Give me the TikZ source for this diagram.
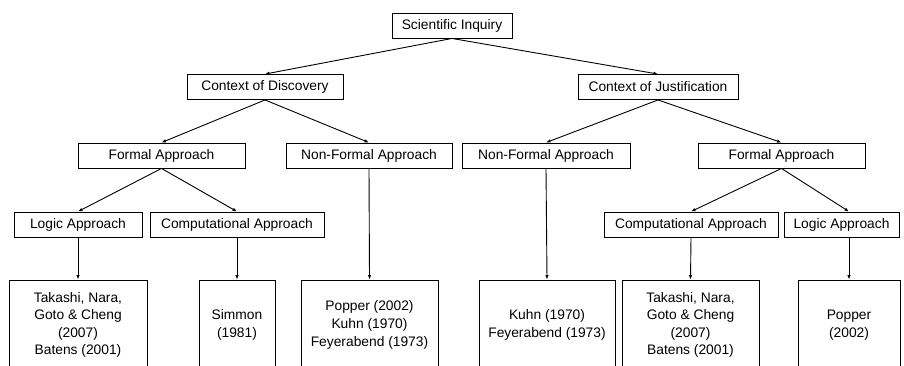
\documentclass[tikz,border=0pt]{standalone}
\usepackage{fontspec}
\setmainfont{Liberation Sans}
\usetikzlibrary{positioning}
\usetikzlibrary{arrows.meta}
\tikzset{box/.style = {draw, line width=0.9pt, inner sep=0,
                       minimum height=25pt, align=center,
                       font=\fontsize{13.8}{17.6}\selectfont}}
\tikzset{leaf/.style = {box, minimum height=90pt}}
\tikzset{arr/.style = {-{Latex[length=4.5pt,width=3.5pt]}, line width=0.9pt}}

\begin{document}
\begin{tikzpicture}[x=1pt,y=-1pt]
      \useasboundingbox (0,0) rectangle (904,365);
      \clip (0,0) rectangle (904,365);

      \node[box, minimum width=120pt] (inquiry) at (452,25.5) {Scientific Inquiry};

      \node[box, minimum width=156pt] (disc) at (265,87) {Context of Discovery};
      \node[box, minimum width=160pt] (just) at (658,87) {Context of Justification};

      \node[box, minimum width=167pt] (formalL) at (161.5,155.5) {Formal Approach};
      \node[box, minimum width=166pt] (nonformalL) at (369,155.5) {Non-Formal Approach};
      \node[box, minimum width=168pt] (nonformalR) at (546,155.5) {Non-Formal Approach};
      \node[box, minimum width=167pt] (formalR) at (781.5,155.5) {Formal Approach};

      \node[box, minimum width=128pt] (logicL) at (78,224.5) {Logic Approach};
      \node[box, minimum width=174pt] (compL) at (237,224.5) {Computational Approach};
      \node[box, minimum width=174pt] (compR) at (691,224.5) {Computational Approach};
      \node[box, minimum width=115pt] (logicR) at (841.5,224.5) {Logic Approach};

      % references, cut off at the bottom
      \node[leaf, minimum width=138pt] (refA) at (78,325) {Takashi, Nara,\\Goto \& Cheng\\(2007)\\Batens (2001)};
      \node[leaf, minimum width=76pt] (refB) at (237,325) {Simmon\\(1981)};
      \node[leaf, minimum width=137pt] (refC) at (369.5,325) {Popper (2002)\\Kuhn (1970)\\Feyerabend (1973)};
      \node[leaf, minimum width=136pt] (refD) at (547,325) {Kuhn (1970)\\Feyerabend (1973)};
      \node[leaf, minimum width=137pt] (refE) at (690.5,325) {Takashi, Nara,\\Goto \& Cheng\\(2007)\\Batens (2001)};
      \node[leaf, minimum width=102pt] (refF) at (849,325) {Popper\\(2002)};

      \draw[arr] (inquiry.south) -- (disc.north);
      \draw[arr] (inquiry.south) -- (just.north);
      \draw[arr] (disc.south) -- (formalL.north);
      \draw[arr] (disc.south) -- (nonformalL.north);
      \draw[arr] (just.south) -- (nonformalR.north);
      \draw[arr] (just.south) -- (formalR.north);
      \draw[arr] (formalL.south) -- (logicL.north);
      \draw[arr] (formalL.south) -- (compL.north);
      \draw[arr] (formalR.south) -- (compR.north);
      \draw[arr] (formalR.south) -- (refF.north |- logicR.north);

      \draw[arr] (logicL.south) -- (refA.north);
      \draw[arr] (compL.south) -- (refB.north);
      \draw[arr] (nonformalL.south) -- (refC.north);
      \draw[arr] (nonformalR.south) -- (refD.north);
      \draw[arr] (compR.south) -- (refE.north);
      \draw[arr] (refF.north |- logicR.south) -- (refF.north);
    \end{tikzpicture}
\end{document}
